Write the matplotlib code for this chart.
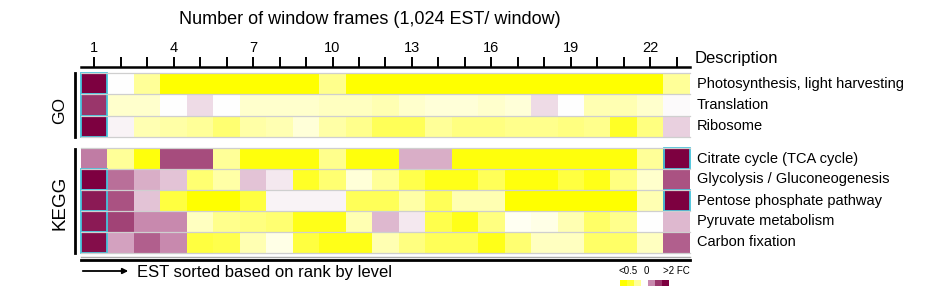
"""Heatmap of GO / KEGG fold change across EST window frames."""

import matplotlib
matplotlib.use("Agg")
import matplotlib.pyplot as plt
import matplotlib.patches as patches
from matplotlib.colors import LinearSegmentedColormap
import numpy as np

plt.rcParams["font.family"] = ["Liberation Sans", "DejaVu Sans"]

W, H = 951, 286

# fold change on a -1 (<0.5) .. 0 .. +1 (>2 FC) scale, one value per window frame
go_labels = ["Photosynthesis, light harvesting", "Translation", "Ribosome"]
go_values = [
    [1.0, 0.0, -0.4, -1, -1, -1, -1, -1, -1, -0.45, -1, -1, -1, -1, -1, -1, -1, -1, -1, -1, -1, -1, -0.4],
    [0.8, -0.2, -0.2, 0.0, 0.15, 0.0, -0.2, -0.2, -0.2, -0.25, -0.25, -0.3, -0.2, -0.15, -0.15, -0.2, -0.15, 0.15, 0.0, -0.3, -0.3, -0.2, 0.02],
    [1.0, 0.05, -0.3, -0.35, -0.4, -0.55, -0.35, -0.3, -0.15, -0.35, -0.45, -0.65, -0.65, -0.4, -0.5, -0.5, -0.45, -0.45, -0.5, -0.45, -0.85, -0.5, 0.2],
]

kegg_labels = ["Citrate cycle (TCA cycle)", "Glycolysis / Gluconeogenesis",
               "Pentose phosphate pathway", "Pyruvate metabolism", "Carbon fixation"]
kegg_values = [
    [0.55, -0.4, -0.95, 0.72, 0.72, -0.4, -0.95, -0.95, -0.95, -0.45, -0.95, -0.95, 0.35, 0.35, -0.95, -0.95, -0.95, -0.95, -0.95, -0.95, -0.95, -0.4, 1.0],
    [1.0, 0.6, 0.35, 0.25, -0.55, -0.35, 0.25, 0.1, -0.85, -0.55, -0.15, -0.4, -0.7, -0.9, -0.9, -0.65, -0.95, -0.95, -0.75, -0.9, -0.5, -0.2, 0.7],
    [0.9, 0.7, 0.25, -0.75, -1, -1, -0.75, 0.05, 0.05, 0.05, -0.65, -0.65, -0.35, -0.65, -0.3, -0.3, -1, -1, -1, -1, -1, -0.3, 1.0],
    [0.9, 0.75, 0.5, 0.5, -0.25, -0.45, -0.5, -0.55, -0.9, -0.9, -0.3, 0.3, 0.1, -0.7, -0.9, -0.5, -0.05, -0.1, -0.3, -0.6, -0.45, 0.0, 0.3],
    [0.95, 0.4, 0.65, 0.5, -0.75, -0.7, -0.3, -0.1, -0.75, -0.9, -0.9, -0.3, -0.5, -0.65, -0.65, -0.9, -0.55, -0.25, -0.25, -0.6, -0.6, -0.25, 0.65],
]

# highlighted cells (row, frame)
go_marked = [(0, 1), (1, 1), (2, 1)]
kegg_marked = [(1, 1), (2, 1), (3, 1), (4, 1), (0, 23), (2, 23)]

frames = list(range(1, 24))
frame_labels = [1, 4, 7, 10, 13, 16, 19, 22]
legend_levels = [-1, -0.8, -0.4, 0, 0.5, 0.8, 1]

cmap = LinearSegmentedColormap.from_list(
    "fc", [(0, "#ffff00"), (0.5, "#ffffff"), (0.75, "#c98bb0"), (1, "#7d0040")])
cyan = "#45c4dc"


def px(x0, y0, x1, y1):
    """Pixel box (top-left origin) to figure rect."""
    return [x0 / W, 1 - y1 / H, (x1 - x0) / W, (y1 - y0) / H]


fig = plt.figure(figsize=(W / 100, H / 100), dpi=100)


def draw_block(rect, values, labels, marked):
    ax = fig.add_axes(rect)
    n = len(values)
    ax.imshow(np.array(values), cmap=cmap, vmin=-1, vmax=1, aspect="auto",
              interpolation="nearest", extent=(0.5, len(frames) + 0.5, n - 0.5, -0.5))
    for y in np.arange(n + 1) - 0.5:
        ax.axhline(y, color="#cfcfcf", lw=0.9, clip_on=False)
    for r, c in marked:
        ax.add_patch(patches.Rectangle((c - 0.5, r - 0.5), 1, 1, fill=False,
                                       ec=cyan, lw=1.3, clip_on=False))
    ax.set_xlim(0.5, len(frames) + 0.5)
    ax.set_ylim(n - 0.5, -0.5)
    ax.axis("off")
    bbox = ax.get_position()
    for i, lab in enumerate(labels):
        yc = bbox.y1 - (i + 0.5) * bbox.height / n
        fig.text(697 / W, yc, lab, fontsize=10.5, va="center", ha="left")
    return ax


draw_block(px(81, 73, 690, 137), go_values, go_labels, go_marked)
draw_block(px(81, 148, 690, 253), kegg_values, kegg_labels, kegg_marked)

# top frame axis: spine sits on the top edge of this strip
ax_t = fig.add_axes(px(81, 67, 690, 70))
ax_t.set_xlim(0.5, len(frames) + 0.5)
for s in ["left", "right", "bottom"]:
    ax_t.spines[s].set_visible(False)
ax_t.spines["top"].set_linewidth(1.8)
ax_t.set_yticks([])
ax_t.xaxis.tick_top()
ax_t.set_xticks(frames)
ax_t.set_xticklabels([str(f) if f in frame_labels else "" for f in frames])
ax_t.tick_params(axis="x", direction="out", length=7, width=1.4, pad=2, labelsize=10.5)
ax_t.patch.set_visible(False)

fig.text(370 / W, 1 - 20 / H, "Number of window frames (1,024 EST/ window)",
         fontsize=13, ha="center", va="center")
fig.text(695 / W, 1 - 59 / H, "Description", fontsize=12, ha="left", va="center")

# group brackets
fig.add_artist(plt.Line2D([75 / W, 75 / W], [1 - 73 / H, 1 - 137 / H], color="black", lw=2))
fig.add_artist(plt.Line2D([75 / W, 75 / W], [1 - 149 / H, 1 - 253 / H], color="black", lw=2))
fig.text(60 / W, 1 - 110 / H, "GO", fontsize=12.5, rotation=90, ha="center", va="center")
fig.text(60 / W, 1 - 203 / H, "KEGG", fontsize=13.5, rotation=90, ha="center", va="center")

# bottom rule and arrow
fig.add_artist(plt.Line2D([81 / W, 690 / W], [1 - 257 / H, 1 - 257 / H], color="#aaaaaa", lw=1))
fig.add_artist(plt.Line2D([81 / W, 690 / W], [1 - 260 / H, 1 - 260 / H], color="black", lw=2))
fig.add_artist(patches.FancyArrowPatch((80 / W, 1 - 271 / H), (131 / W, 1 - 271 / H),
                                       transform=fig.transFigure, arrowstyle="-|>",
                                       mutation_scale=8, color="black", lw=1.3))
fig.text(137 / W, 1 - 272 / H, "EST sorted based on rank by level", fontsize=12,
         ha="left", va="center")

# colour key
ax_l = fig.add_axes(px(620, 280, 668, 286))
ax_l.imshow(np.array([legend_levels]), cmap=cmap, vmin=-1, vmax=1, aspect="auto",
            interpolation="nearest")
ax_l.axis("off")
fig.text(628 / W, 1 - 271 / H, "<0.5", fontsize=7, ha="center", va="center")
fig.text(646 / W, 1 - 271 / H, "0", fontsize=7, ha="center", va="center")
fig.text(663 / W, 1 - 271 / H, ">2 FC", fontsize=7, ha="left", va="center")

fig.savefig("out.png", dpi=100)
